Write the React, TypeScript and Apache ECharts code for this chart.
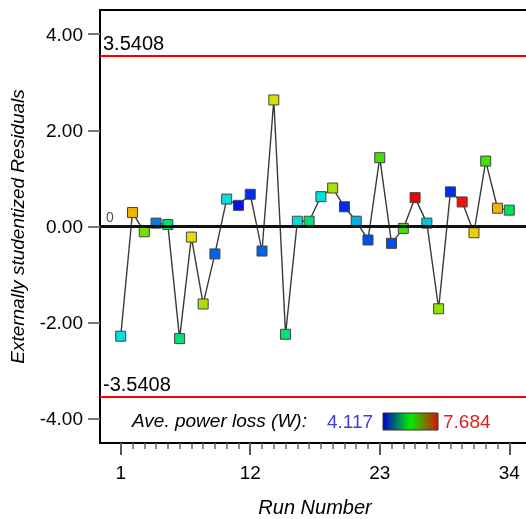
import React, { useEffect, useRef } from "react";
import * as echarts from "echarts";

const runs = [1, 2, 3, 4, 5, 6, 7, 8, 9, 10, 11, 12, 13, 14, 15, 16, 17, 18, 19, 20, 21, 22, 23, 24, 25, 26, 27, 28, 29, 30, 31, 32, 33, 34];
const residuals = [
  -2.28, 0.29, -0.11, 0.07, 0.04, -2.33, -0.22, -1.61, -0.57, 0.57, 0.44, 0.67,
  -0.51, 2.63, -2.24, 0.11, 0.11, 0.62, 0.8, 0.41, 0.11, -0.28, 1.43, -0.35,
  -0.04, 0.6, 0.07, -1.71, 0.72, 0.51, -0.13, 1.36, 0.38, 0.34,
];
const powerLoss = [
  5.01, 6.97, 6.33, 4.62, 5.47, 5.44, 6.83, 6.54, 4.51, 5.01, 4.19, 4.3,
  4.51, 6.69, 5.44, 5.04, 5.44, 5.01, 6.54, 4.3, 4.83, 4.44, 6.15, 4.44,
  6.15, 7.68, 4.9, 6.44, 4.3, 7.61, 6.86, 6.15, 6.97, 5.54,
];
const yTicks = [-4, -2, 0, 2, 4];
const xMajorTicks = [1, 12, 23, 34];
const limit = 3.5408;
const powerMin = 4.117;
const powerMax = 7.684;

const FONT = '"Liberation Sans", Arial, sans-serif';

export default function App() {
  const ref = useRef<HTMLDivElement>(null);
  useEffect(() => {
    if (!ref.current) return;
    const chart = echarts.init(ref.current, null, { renderer: "svg" });
    const xMin = -0.76;
    const xMax = 35.76;
    chart.setOption({
      animation: false,
      grid: {
        left: 100,
        top: 10,
        right: -4,
        bottom: 76,
        show: true,
        borderColor: "#000",
        borderWidth: 2,
        containLabel: false,
        outerBoundsMode: "none",
      },
      xAxis: [
        {
          type: "value",
          min: xMin,
          max: xMax,
          position: "bottom",
          axisLine: { show: true, onZero: false, lineStyle: { color: "#000", width: 2 } },
          axisTick: { show: true, customValues: xMajorTicks, length: 12, lineStyle: { color: "#555", width: 2 } },
          axisLabel: { customValues: xMajorTicks, margin: 20, fontSize: 19, color: "#000", fontFamily: FONT },
          splitLine: { show: false },
          name: "Run Number",
          nameLocation: "middle",
          nameGap: 54,
          nameTextStyle: { fontStyle: "italic", fontSize: 20, color: "#000", fontFamily: FONT },
        },
        {
          type: "value",
          min: xMin,
          max: xMax,
          position: "bottom",
          axisLine: { show: false, onZero: false },
          axisTick: { show: true, customValues: runs, length: 6, lineStyle: { color: "#666", width: 1.5 } },
          axisLabel: { show: false },
          splitLine: { show: false },
        },
      ],
      yAxis: {
        type: "value",
        min: -4.5,
        max: 4.5,
        axisLine: { show: true, onZero: false, lineStyle: { color: "#000", width: 2 } },
        axisTick: { show: true, customValues: yTicks, length: 12, lineStyle: { color: "#777", width: 2 } },
        axisLabel: {
          customValues: yTicks,
          formatter: (v: number) => v.toFixed(2),
          margin: 17,
          fontSize: 19,
          color: "#000",
          fontFamily: FONT,
        },
        splitLine: { show: false },
        name: "Externally studentized Residuals",
        nameLocation: "middle",
        nameGap: 73,
        nameTextStyle: { fontStyle: "italic", fontSize: 19, color: "#000", fontFamily: FONT },
      },
      visualMap: {
        type: "continuous",
        show: false,
        seriesIndex: 1,
        dimension: 2,
        min: powerMin,
        max: powerMax,
        inRange: { color: ["#0000ee", "#00e0e0", "#00e000", "#f0e000", "#f00000"] },
      },
      series: [
        {
          type: "line",
          data: runs.map((r, i) => [r, residuals[i]]),
          symbol: "none",
          lineStyle: { color: "#3a3a3a", width: 1.4 },
          z: 2,
          markLine: {
            silent: true,
            symbol: ["none", "none"],
            label: {
              position: "insideStartTop",
              fontSize: 20,
              color: "#000",
              fontFamily: FONT,
              distance: [3, 3],
            },
            data: [
              { yAxis: limit, lineStyle: { color: "#ff0000", width: 2, type: "solid" }, label: { formatter: limit.toFixed(4) } },
              { yAxis: -limit, lineStyle: { color: "#ff0000", width: 2, type: "solid" }, label: { formatter: (-limit).toFixed(4) } },
              {
                yAxis: 0,
                lineStyle: { color: "#111", width: 3, type: "solid" },
                label: { formatter: "0", fontSize: 14, color: "#555", distance: [6, 3] },
              },
            ],
          },
        },
        {
          type: "scatter",
          data: runs.map((r, i) => [r, residuals[i], powerLoss[i]]),
          symbol: "rect",
          symbolSize: 10,
          itemStyle: { borderColor: "#444", borderWidth: 1, opacity: 1 },
          z: 3,
        },
      ],
      graphic: [
        {
          type: "text",
          x: 132,
          y: 420,
          z: 10,
          style: { text: "Ave. power loss (W):", fill: "#000", font: `italic 19px ${FONT}`, align: "left", verticalAlign: "middle" },
        },
        {
          type: "text",
          x: 327,
          y: 421,
          z: 10,
          style: { text: powerMin.toFixed(3), fill: "#3c3ce0", font: `19px ${FONT}`, align: "left", verticalAlign: "middle" },
        },
        {
          type: "rect",
          z: 10,
          shape: { x: 383, y: 413, width: 55, height: 17 },
          style: {
            fill: new echarts.graphic.LinearGradient(0, 0, 1, 0, [
              { offset: 0, color: "#0000cc" },
              { offset: 0.5, color: "#00ee00" },
              { offset: 1, color: "#dd1100" },
            ]),
            stroke: "#333",
            lineWidth: 1,
          },
        },
        {
          type: "text",
          x: 443,
          y: 421,
          z: 10,
          style: { text: powerMax.toFixed(3), fill: "#e02020", font: `19px ${FONT}`, align: "left", verticalAlign: "middle" },
        },
      ],
    });
    return () => chart.dispose();
  }, []);
  return <div ref={ref} style={{ position: "fixed", left: 0, top: 0, width: 526, height: 519 }} />;
}
